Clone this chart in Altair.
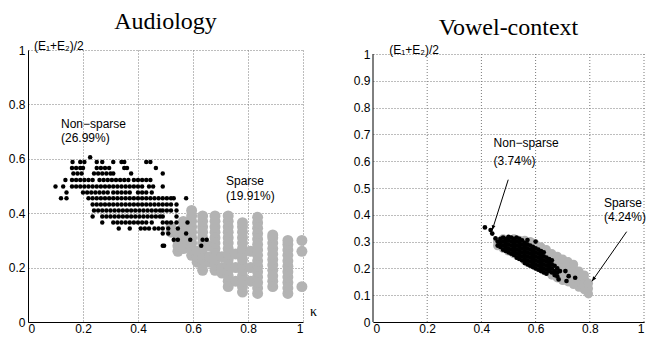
import altair as alt
import pandas as pd

# ---------------- Audiology ----------------
aud_black_y = [0.606, 0.588, 0.566, 0.546, 0.522, 0.498, 0.476, 0.455, 0.432,
               0.410, 0.388, 0.366, 0.344, 0.325, 0.302, 0.280]
aud_black_x = [
    [0.226],
    [0.162, 0.19, 0.205, 0.25, 0.27, 0.31, 0.34, 0.35, 0.43, 0.445],
    [0.16, 0.175, 0.19, 0.20, 0.25, 0.265, 0.28, 0.295, 0.35, 0.36, 0.465],
    [0.165, 0.18, 0.195, 0.24, 0.255, 0.27, 0.285, 0.30, 0.31, 0.375, 0.49],
    [0.136, 0.16, 0.175, 0.19, 0.205, 0.22, 0.235, 0.26, 0.275, 0.29, 0.305,
     0.32, 0.335, 0.35, 0.365, 0.385, 0.40, 0.415, 0.43, 0.445],
    [0.10, 0.128, 0.16, 0.175, 0.19, 0.205, 0.22, 0.235, 0.25, 0.265, 0.28,
     0.295, 0.31, 0.325, 0.34, 0.355, 0.37, 0.385, 0.40, 0.415, 0.44, 0.455, 0.49],
    [0.14, 0.20, 0.215, 0.23, 0.245, 0.26, 0.275, 0.29, 0.31, 0.325, 0.34,
     0.355, 0.37, 0.40, 0.415, 0.43, 0.45],
    [0.12, 0.14, 0.22, 0.235, 0.25, 0.265, 0.28, 0.295, 0.31, 0.325, 0.34,
     0.355, 0.37, 0.385, 0.40, 0.415, 0.43, 0.445, 0.46, 0.475, 0.49, 0.505,
     0.52, 0.53, 0.575],
    [0.235, 0.25, 0.265, 0.28, 0.295, 0.31, 0.325, 0.34, 0.355, 0.37, 0.385,
     0.40, 0.415, 0.43, 0.445, 0.46, 0.475, 0.49, 0.505, 0.52, 0.54],
    [0.24, 0.255, 0.27, 0.285, 0.30, 0.315, 0.33, 0.345, 0.36, 0.375, 0.39,
     0.405, 0.42, 0.435, 0.45, 0.465, 0.48, 0.49, 0.505, 0.52, 0.54],
    [0.235, 0.27, 0.285, 0.30, 0.315, 0.33, 0.345, 0.36, 0.375, 0.39, 0.405,
     0.42, 0.435, 0.45, 0.465, 0.48, 0.49, 0.54],
    [0.27, 0.31, 0.325, 0.34, 0.355, 0.37, 0.385, 0.40, 0.415, 0.43, 0.45,
     0.49, 0.505, 0.52, 0.54, 0.58],
    [0.33, 0.37, 0.41, 0.425, 0.44, 0.46, 0.475, 0.49, 0.51, 0.545],
    [0.49, 0.51, 0.575],
    [0.53, 0.545, 0.59, 0.635, 0.65],
    [0.49, 0.495, 0.63],
]

aud_gray_x = [0.52, 0.545, 0.565, 0.595, 0.615, 0.635, 0.66, 0.68, 0.705,
              0.728, 0.755, 0.78, 0.81, 0.835, 0.89, 0.945, 0.996]
aud_gray_y = [
    [0.33, 0.35],
    [0.26, 0.28, 0.30, 0.32],
    [0.27, 0.29, 0.31, 0.33, 0.35, 0.37],
    [0.245, 0.27, 0.29, 0.31, 0.33, 0.35, 0.37, 0.39, 0.41],
    [0.22, 0.24, 0.26],
    [0.19, 0.21, 0.23, 0.25, 0.27, 0.29, 0.31, 0.33, 0.35, 0.37, 0.39],
    [0.22, 0.24, 0.28],
    [0.19, 0.21, 0.23, 0.25, 0.27, 0.29, 0.31, 0.33, 0.35, 0.37, 0.39],
    [0.18, 0.20, 0.24],
    [0.13, 0.15, 0.17, 0.19, 0.21, 0.23, 0.25, 0.27, 0.29, 0.31, 0.33, 0.35,
     0.37, 0.39],
    [0.15, 0.20, 0.25],
    [0.11, 0.13, 0.15, 0.17, 0.19, 0.21, 0.23, 0.25, 0.27, 0.29, 0.31, 0.33,
     0.35, 0.365],
    [0.15, 0.20, 0.26],
    [0.105, 0.125, 0.145, 0.165, 0.185, 0.205, 0.225, 0.245, 0.265, 0.285,
     0.305, 0.325, 0.345, 0.365, 0.385],
    [0.13, 0.15, 0.17, 0.19, 0.21, 0.23, 0.25, 0.27, 0.29, 0.31, 0.32],
    [0.105, 0.125, 0.145, 0.165, 0.185, 0.205, 0.225, 0.245, 0.265, 0.285, 0.30],
    [0.13, 0.26, 0.30],
]

# ---------------- Vowel-context ----------------
vow_black_x = [0.413, 0.434, 0.44, 0.452, 0.46, 0.47, 0.48, 0.49, 0.50, 0.51,
               0.52, 0.53, 0.54, 0.55, 0.56, 0.57, 0.58, 0.59, 0.60, 0.61,
               0.62, 0.63, 0.64, 0.65, 0.66, 0.67, 0.68, 0.685, 0.69, 0.71,
               0.714, 0.722, 0.746]
vow_black_y = [
    [0.353], [0.343], [0.33], [0.312],
    [0.285, 0.30],
    [0.28, 0.295, 0.31],
    [0.27, 0.285, 0.30, 0.315],
    [0.265, 0.28, 0.295, 0.31],
    [0.26, 0.275, 0.29, 0.305, 0.318],
    [0.255, 0.27, 0.285, 0.30, 0.315],
    [0.25, 0.265, 0.28, 0.295, 0.31],
    [0.24, 0.255, 0.27, 0.285, 0.30, 0.315],
    [0.235, 0.25, 0.265, 0.28, 0.295, 0.31],
    [0.23, 0.245, 0.26, 0.275, 0.29, 0.305],
    [0.22, 0.235, 0.25, 0.265, 0.28, 0.295],
    [0.215, 0.23, 0.245, 0.26, 0.275, 0.29, 0.306],
    [0.21, 0.225, 0.24, 0.255, 0.27, 0.285],
    [0.205, 0.22, 0.235, 0.25, 0.265, 0.28],
    [0.20, 0.215, 0.23, 0.245, 0.26, 0.275, 0.30],
    [0.195, 0.21, 0.225, 0.24, 0.255, 0.27],
    [0.19, 0.205, 0.22, 0.235, 0.25, 0.265],
    [0.185, 0.20, 0.215, 0.23, 0.245, 0.26],
    [0.18, 0.195, 0.21, 0.225, 0.24],
    [0.19, 0.205, 0.22, 0.235],
    [0.185, 0.20, 0.215, 0.23],
    [0.175, 0.19, 0.21],
    [0.17, 0.185, 0.20],
    [0.159], [0.19], [0.19], [0.153], [0.171], [0.165],
]

vow_gray_x = [0.46, 0.48, 0.50, 0.52, 0.54, 0.56, 0.58, 0.60, 0.62, 0.64,
              0.66, 0.68, 0.70, 0.72, 0.74, 0.76, 0.78, 0.795]
vow_gray_y = [
    [0.285, 0.30],
    [0.275, 0.295, 0.31],
    [0.265, 0.285, 0.305],
    [0.255, 0.275, 0.295, 0.31],
    [0.245, 0.265, 0.285, 0.305],
    [0.23, 0.25, 0.27, 0.29, 0.305],
    [0.22, 0.24, 0.26, 0.28, 0.30],
    [0.21, 0.23, 0.25, 0.27, 0.29],
    [0.20, 0.22, 0.24, 0.26, 0.28],
    [0.19, 0.21, 0.23, 0.25, 0.27],
    [0.175, 0.195, 0.215, 0.235, 0.255],
    [0.165, 0.185, 0.205, 0.225, 0.245],
    [0.155, 0.175, 0.195, 0.215, 0.235],
    [0.15, 0.17, 0.19, 0.21, 0.225],
    [0.14, 0.16, 0.18, 0.20, 0.215],
    [0.13, 0.15, 0.17, 0.19],
    [0.12, 0.14, 0.16, 0.175],
    [0.105, 0.125, 0.145],
]

x_ticks = [0, 0.2, 0.4, 0.6, 0.8, 1]
x_grid = [0.2, 0.4, 0.6, 0.8, 1]
aud_y_ticks = [0, 0.2, 0.4, 0.6, 0.8, 1]
vow_y_ticks = [0, 0.1, 0.2, 0.3, 0.4, 0.5, 0.6, 0.7, 0.8, 0.9, 1]

# annotations
aud_text_x = [0.12, 0.12, 0.72, 0.72]
aud_text_y = [0.715, 0.66, 0.503, 0.45]
aud_text_s = ["Non\u2212sparse", "(26.99%)", "Sparse", "(19.91%)"]
vow_text_x = [0.445, 0.445, 0.852, 0.852]
vow_text_y = [0.653, 0.587, 0.428, 0.376]
vow_text_s = ["Non\u2212sparse", "(3.74%)", "Sparse", "(4.24%)"]
vow_arrow_x = [0.499, 0.936]
vow_arrow_y = [0.531, 0.337]
vow_arrow_x2 = [0.44, 0.808]
vow_arrow_y2 = [0.343, 0.152]
vow_arrow_angle = [17, 35]
ylabel = "(E\u2081+E\u2082)/2"

# layout (pixels)
L_W, L_H = 275, 272
R_W, R_H = 271, 272
R_VIS = 268                      # visible height of the right panel's 0..1 range
R_YMAX = R_H / R_VIS             # right panel sits 4 px lower than the left


def rows_to_df(ys, xs):
    return pd.DataFrame([{"x": x, "y": y} for y, row in zip(ys, xs) for x in row])


def cols_to_df(xs, ys):
    return pd.DataFrame([{"x": x, "y": y} for x, col in zip(xs, ys) for y in col])


def xy(yticks, ymax=1.0, xgrid=True, ydomain=True, xf="x:Q", yf="y:Q"):
    return dict(
        x=alt.X(xf, scale=alt.Scale(domain=[0, 1], nice=False, zero=False),
                axis=alt.Axis(values=x_ticks, format="~g", title=None,
                              grid=xgrid)),
        y=alt.Y(yf, scale=alt.Scale(domain=[0, ymax], nice=False, zero=False),
                axis=alt.Axis(values=yticks, format="~g", title=None,
                              domain=ydomain)),
    )


def panel(gray_df, black_df, gsize, bsize, e, title, tx, ty, ts, lab_x,
          w, h, toff, extra=None):
    gray = alt.Chart(gray_df).mark_circle(color="#b3b3b3", opacity=1,
                                          size=gsize).encode(**e)
    black = alt.Chart(black_df).mark_circle(color="black", opacity=1,
                                            size=bsize).encode(**e)
    tdf = pd.DataFrame({"x": tx, "y": ty, "t": ts})
    texts = alt.Chart(tdf).mark_text(align="left", baseline="alphabetic",
                                     font="Liberation Sans", fontSize=12,
                                     color="black").encode(text="t:N", **e)
    ldf = pd.DataFrame({"x": [lab_x], "y": [1.0], "t": [ylabel]})
    lab = alt.Chart(ldf).mark_text(align="left", baseline="alphabetic",
                                   font="Liberation Sans", fontSize=12,
                                   color="black").encode(text="t:N", **e)
    layers = (extra or []) + [gray, black, texts, lab]
    return alt.layer(*layers).properties(
        width=w, height=h,
        title=alt.Title(title, font="Liberation Serif", fontSize=24,
                        fontWeight="normal", color="black", offset=toff))


aud_gray = cols_to_df(aud_gray_x, aud_gray_y)
aud_black = rows_to_df(aud_black_y, aud_black_x)
vow_gray = cols_to_df(vow_gray_x, vow_gray_y)
vow_black = cols_to_df(vow_black_x, vow_black_y)

# ---- left panel ----
el = xy(aud_y_ticks)
kdf = pd.DataFrame({"x": [1.025], "y": [0.035], "t": ["\u03ba"]})
kappa = alt.Chart(kdf).mark_text(align="left", baseline="middle",
                                 font="Liberation Serif", fontSize=14,
                                 color="black").encode(text="t:N", **el)
left = panel(aud_gray, aud_black, 120, 20, el, "Audiology",
             aud_text_x, aud_text_y, aud_text_s, 0.022, L_W, L_H, 6, [kappa])

# ---- right panel ----
er = xy(vow_y_ticks, ymax=R_YMAX, xgrid=False, ydomain=False)
gdf = pd.DataFrame({"x": x_grid, "y": [0] * len(x_grid), "y2": [1] * len(x_grid)})
vgrid = alt.Chart(gdf).mark_rule(color="#7a7a7a", strokeWidth=1,
                                 strokeDash=[1, 2]).encode(y2="y2:Q", **er)
ddf = pd.DataFrame({"x": [0], "y": [0], "y2": [1]})
ydom = alt.Chart(ddf).mark_rule(color="black", strokeWidth=1).encode(
    y2="y2:Q", **er)
adf = pd.DataFrame({"x": vow_arrow_x, "y": vow_arrow_y,
                    "x2": vow_arrow_x2, "y2": vow_arrow_y2,
                    "a": vow_arrow_angle})
arrow_line = alt.Chart(adf).mark_rule(color="black", strokeWidth=1).encode(
    x2="x2:Q", y2="y2:Q", **er)
arrow_head = alt.Chart(adf).mark_point(
    shape="M0,0L-0.4,-1L0.4,-1Z", filled=True, color="black", opacity=1,
    size=90).encode(angle=alt.Angle("a:Q", scale=None),
                    **xy(vow_y_ticks, ymax=R_YMAX, xgrid=False, ydomain=False,
                         xf="x2:Q", yf="y2:Q"))
right = panel(vow_gray, vow_black, 85, 22, er, "Vowel-context",
              vow_text_x, vow_text_y, vow_text_s, 0.06, R_W, R_H, 4,
              [vgrid, ydom])
right = alt.layer(right, arrow_line, arrow_head)

chart = alt.hconcat(left, right, spacing=70, bounds="flush").properties(
    autosize=alt.AutoSizeParams(type="none"),
    padding={"left": 20, "top": 42, "right": 623, "bottom": 286}
).configure_axis(
    gridDash=[1, 2], gridColor="#7a7a7a", gridWidth=1,
    gridOpacity=1, domainColor="black", domainWidth=1, ticks=False,
    labelFont="Liberation Sans", labelFontSize=12, labelColor="black"
).configure_axisY(labelPadding=3).configure_axisX(labelPadding=1
).configure_view(stroke=None)

chart.save("out.html", embed_options={"renderer": "svg", "actions": False})
